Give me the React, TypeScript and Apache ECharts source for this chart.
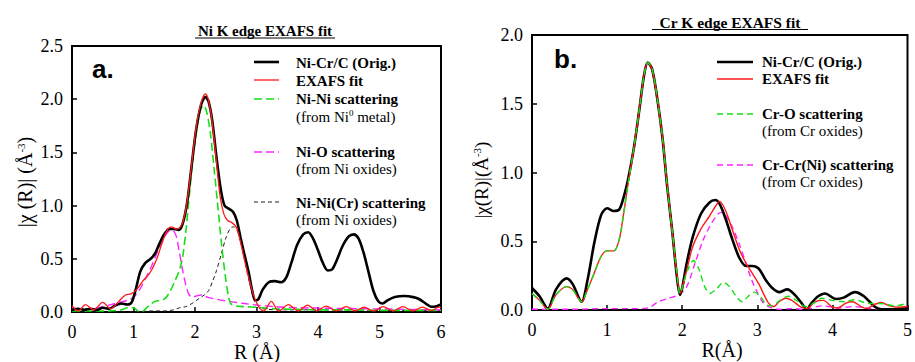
import React, { useEffect, useRef } from 'react';
import * as echarts from 'echarts';

// ---------- Panel a: Ni K edge ----------
const xTicksA = [0, 1, 2, 3, 4, 5, 6];
const yTicksA = [0, 0.5, 1.0, 1.5, 2.0, 2.5];
const origA = [[0,0.02],[0.1,0.03],[0.2,0.02],[0.3,0.03],[0.4,0.02],[0.5,0.04],[0.6,0.03],[0.7,0.06],[0.8,0.08],[0.9,0.07],[0.97,0.09],[1.04,0.22],[1.11,0.38],[1.19,0.46],[1.28,0.5],[1.35,0.55],[1.42,0.64],[1.5,0.73],[1.58,0.78],[1.66,0.78],[1.74,0.77],[1.8,0.83],[1.87,1.02],[1.94,1.35],[2.02,1.72],[2.1,1.95],[2.17,2.02],[2.22,1.98],[2.28,1.8],[2.35,1.45],[2.42,1.15],[2.48,1.0],[2.55,0.97],[2.62,0.94],[2.68,0.86],[2.74,0.7],[2.8,0.55],[2.87,0.38],[2.93,0.2],[2.98,0.11],[3.03,0.12],[3.1,0.21],[3.2,0.28],[3.3,0.29],[3.4,0.28],[3.48,0.32],[3.56,0.45],[3.66,0.63],[3.76,0.73],[3.84,0.75],[3.92,0.69],[4.0,0.58],[4.08,0.46],[4.16,0.39],[4.23,0.4],[4.3,0.48],[4.4,0.62],[4.5,0.71],[4.58,0.73],[4.66,0.69],[4.74,0.56],[4.82,0.38],[4.9,0.2],[4.98,0.1],[5.05,0.08],[5.13,0.11],[5.25,0.14],[5.4,0.15],[5.55,0.14],[5.65,0.12],[5.75,0.08],[5.84,0.05],[5.93,0.055],[6.0,0.07]];
const fitA = [[0,0.06],[0.1,0.01],[0.22,0.07],[0.35,0.02],[0.5,0.09],[0.63,0.03],[0.76,0.1],[0.87,0.16],[0.96,0.17],[1.05,0.21],[1.15,0.29],[1.23,0.34],[1.3,0.4],[1.38,0.5],[1.46,0.64],[1.54,0.76],[1.61,0.8],[1.7,0.78],[1.76,0.8],[1.81,0.86],[1.87,1.03],[1.94,1.36],[2.02,1.74],[2.1,1.97],[2.17,2.05],[2.22,1.99],[2.28,1.78],[2.35,1.4],[2.41,1.08],[2.47,0.92],[2.53,0.86],[2.6,0.84],[2.67,0.8],[2.73,0.68],[2.8,0.5],[2.87,0.33],[2.94,0.18],[3.0,0.09],[3.06,0.03],[3.12,0.01],[3.24,0.1],[3.36,0.01],[3.52,0.07],[3.68,0.01],[3.83,0.065],[3.98,0.01],[4.13,0.055],[4.3,0.01],[4.46,0.05],[4.6,0.01],[4.75,0.045],[4.9,0.01],[5.06,0.05],[5.22,0.01],[5.38,0.05],[5.54,0.01],[5.7,0.045],[5.85,0.015],[5.97,0.045],[6.0,0.04]];
const niNiA = [[0,0.01],[0.3,0.01],[0.6,0.01],[0.8,0.02],[0.92,0.04],[1.0,0.04],[1.08,0.01],[1.15,0.01],[1.25,0.06],[1.35,0.1],[1.45,0.11],[1.52,0.13],[1.6,0.2],[1.68,0.3],[1.75,0.4],[1.8,0.52],[1.85,0.75],[1.9,1.05],[1.96,1.4],[2.03,1.72],[2.09,1.9],[2.14,1.94],[2.19,1.88],[2.25,1.68],[2.31,1.35],[2.37,1.0],[2.43,0.65],[2.49,0.35],[2.54,0.16],[2.58,0.08],[2.64,0.06],[2.8,0.05],[3.0,0.045],[3.3,0.03],[3.6,0.025],[4.0,0.02],[4.5,0.02],[5.0,0.015],[5.5,0.015],[6.0,0.015]];
const niOA = [[0,0.04],[0.15,0.02],[0.3,0.03],[0.5,0.05],[0.7,0.08],[0.9,0.11],[1.0,0.14],[1.1,0.21],[1.2,0.32],[1.3,0.44],[1.4,0.58],[1.5,0.7],[1.57,0.76],[1.63,0.77],[1.69,0.72],[1.74,0.58],[1.79,0.42],[1.84,0.28],[1.89,0.18],[1.95,0.14],[2.02,0.15],[2.1,0.16],[2.2,0.14],[2.35,0.12],[2.55,0.1],[2.8,0.08],[3.0,0.065],[3.3,0.05],[3.7,0.04],[4.2,0.035],[4.8,0.03],[5.4,0.025],[6.0,0.02]];
const niNiCrA = [[0,0.0],[0.5,0.0],[1.0,0.0],[1.3,0.01],[1.5,0.01],[1.65,0.02],[1.75,0.04],[1.85,0.05],[1.95,0.08],[2.05,0.12],[2.15,0.16],[2.22,0.2],[2.28,0.28],[2.35,0.39],[2.43,0.55],[2.51,0.71],[2.58,0.79],[2.63,0.8],[2.69,0.76],[2.76,0.62],[2.83,0.42],[2.9,0.24],[2.96,0.12],[3.02,0.06],[3.1,0.03],[3.5,0.02],[4,0.02],[5,0.015],[6,0.015]];

// ---------- Panel b: Cr K edge ----------
const xTicksB = [0, 1, 2, 3, 4, 5];
const yTicksB = [0, 0.5, 1.0, 1.5, 2.0];
const origB = [[0,0.16],[0.1,0.1],[0.21,0.01],[0.32,0.15],[0.46,0.23],[0.54,0.19],[0.66,0.06],[0.74,0.22],[0.83,0.49],[0.92,0.69],[1.0,0.74],[1.09,0.72],[1.16,0.73],[1.22,0.82],[1.28,0.95],[1.36,1.19],[1.43,1.46],[1.49,1.7],[1.54,1.8],[1.6,1.75],[1.67,1.53],[1.74,1.24],[1.8,0.9],[1.87,0.56],[1.93,0.24],[1.97,0.11],[2.0,0.16],[2.06,0.34],[2.14,0.53],[2.25,0.7],[2.36,0.78],[2.44,0.8],[2.5,0.77],[2.58,0.66],[2.67,0.51],[2.76,0.38],[2.85,0.32],[2.93,0.32],[3.02,0.3],[3.11,0.22],[3.2,0.16],[3.29,0.13],[3.4,0.15],[3.5,0.11],[3.59,0.05],[3.66,0.005],[3.72,0.05],[3.81,0.1],[3.9,0.12],[4.05,0.08],[4.15,0.09],[4.3,0.13],[4.42,0.1],[4.56,0.025],[4.65,0.005],[4.78,0.005],[4.95,0.01],[5.0,0.01]];
const fitB = [[0,0.12],[0.1,0.07],[0.21,0.005],[0.32,0.11],[0.46,0.17],[0.54,0.15],[0.66,0.06],[0.74,0.15],[0.83,0.27],[0.92,0.39],[1.0,0.43],[1.09,0.43],[1.16,0.51],[1.22,0.7],[1.28,0.92],[1.36,1.19],[1.43,1.46],[1.49,1.7],[1.54,1.8],[1.6,1.75],[1.67,1.53],[1.74,1.24],[1.8,0.9],[1.87,0.56],[1.93,0.26],[1.97,0.12],[2.0,0.16],[2.06,0.29],[2.14,0.46],[2.25,0.59],[2.36,0.68],[2.45,0.76],[2.5,0.79],[2.58,0.72],[2.67,0.58],[2.76,0.44],[2.85,0.34],[2.93,0.27],[3.02,0.19],[3.09,0.11],[3.15,0.05],[3.22,0.025],[3.29,0.06],[3.38,0.085],[3.46,0.07],[3.57,0.025],[3.66,0.01],[3.77,0.06],[3.88,0.07],[3.99,0.025],[4.07,0.015],[4.18,0.05],[4.27,0.06],[4.38,0.025],[4.45,0.01],[4.56,0.04],[4.65,0.055],[4.76,0.03],[4.87,0.02],[5.0,0.025]];
const crOB = [[0,0.12],[0.1,0.07],[0.21,0.005],[0.32,0.11],[0.46,0.17],[0.54,0.15],[0.66,0.06],[0.74,0.15],[0.83,0.27],[0.92,0.39],[1.0,0.43],[1.09,0.43],[1.16,0.51],[1.22,0.7],[1.28,0.92],[1.36,1.19],[1.43,1.46],[1.49,1.7],[1.54,1.8],[1.6,1.75],[1.67,1.53],[1.74,1.24],[1.8,0.9],[1.87,0.56],[1.93,0.26],[1.97,0.12],[2.02,0.2],[2.08,0.3],[2.15,0.36],[2.22,0.3],[2.3,0.17],[2.37,0.12],[2.45,0.15],[2.55,0.2],[2.63,0.17],[2.72,0.1],[2.8,0.06],[2.88,0.1],[2.96,0.13],[3.04,0.1],[3.13,0.035],[3.2,0.03],[3.3,0.07],[3.42,0.1],[3.52,0.07],[3.64,0.025],[3.75,0.05],[3.86,0.085],[4.0,0.07],[4.16,0.06],[4.29,0.075],[4.46,0.05],[4.68,0.045],[4.84,0.03],[5.0,0.05]];
const crCrB = [[0,0.005],[0.5,0.005],[1.0,0.01],[1.3,0.01],[1.46,0.01],[1.57,0.02],[1.68,0.06],[1.82,0.085],[1.95,0.11],[2.06,0.17],[2.17,0.34],[2.28,0.51],[2.39,0.63],[2.48,0.7],[2.54,0.71],[2.6,0.67],[2.67,0.6],[2.76,0.48],[2.85,0.34],[2.91,0.24],[2.98,0.15],[3.07,0.06],[3.15,0.025],[3.29,0.005],[3.46,0.01],[3.64,0.005],[3.86,0.03],[4.07,0.015],[4.29,0.025],[4.51,0.01],[4.78,0.005],[5.0,0.005]];

const SERIF = 'Liberation Serif';
const SANS = 'Liberation Sans';
const RED = '#ff1a1a';
const GREEN = '#14e014';
const MAGENTA = '#ff22ff';
const LEG = 15;

function axisX(grid: number, ticks: number[]) {
  return {
    gridIndex: grid, type: 'value', min: ticks[0], max: ticks[ticks.length - 1], interval: 1,
    axisLine: { show: true, lineStyle: { color: '#000', width: 2 } },
    axisTick: { show: true, inside: true, length: 5, lineStyle: { color: '#000', width: 1.5 } },
    axisLabel: { color: '#000', fontFamily: SERIF, fontSize: 18, margin: 11 },
    splitLine: { show: false },
  };
}
function axisY(grid: number, ticks: number[]) {
  return {
    gridIndex: grid, type: 'value', min: ticks[0], max: ticks[ticks.length - 1], interval: 0.5,
    axisLine: { show: true, lineStyle: { color: '#000', width: 2 } },
    axisTick: { show: true, inside: true, length: 5, lineStyle: { color: '#000', width: 1.5 } },
    axisLabel: { color: '#000', fontFamily: SERIF, fontSize: 18, margin: 9, formatter: (v: number) => v.toFixed(1) },
    splitLine: { show: false },
  };
}
function line(name: string, idx: number, data: number[][], color: string, width: number, dash?: number[]) {
  return {
    name, type: 'line', xAxisIndex: idx, yAxisIndex: idx, data, showSymbol: false, smooth: 0.3,
    lineStyle: { color, width, type: dash ? dash : 'solid' }, z: 3,
  };
}
function legLine(x1: number, x2: number, y: number, color: string, width: number, dash?: number[]) {
  return { type: 'line', shape: { x1, y1: y, x2, y2: y }, style: { stroke: color, lineWidth: width, lineDash: dash || null } };
}
function txt(x: number, y: number, text: string, size: number, weight: string, family = SERIF, extra: any = {}) {
  return {
    type: 'text', x, y,
    style: { text, fill: '#000', fontSize: size, fontWeight: weight, fontFamily: family, align: 'left', verticalAlign: 'middle', ...extra },
  };
}

export default function App() {
  const ref = useRef<HTMLDivElement>(null);
  useEffect(() => {
    document.body.style.margin = '0';
    const chart = echarts.init(ref.current!, null, { renderer: 'svg' });
    const supRich = { sup: { fontSize: 11, fontFamily: SERIF, verticalAlign: 'top', lineHeight: 20 } };
    const option: any = {
      animation: false,
      backgroundColor: '#fff',
      textStyle: { fontFamily: SERIF },
      grid: [
        { left: 72, top: 46, width: 369, height: 266, show: true, borderColor: '#000', borderWidth: 2, backgroundColor: 'transparent' },
        { left: 532, top: 35, width: 380, height: 275, show: true, borderColor: '#000', borderWidth: 2, backgroundColor: 'transparent' },
      ],
      xAxis: [axisX(0, xTicksA), axisX(1, xTicksB)],
      yAxis: [axisY(0, yTicksA), axisY(1, yTicksB)],
      series: [
        line('Ni-Ni(Cr) scattering', 0, niNiCrA, '#222', 1, [4, 3]),
        line('Ni-O scattering', 0, niOA, MAGENTA, 1.4, [8, 4]),
        line('Ni-Ni scattering', 0, niNiA, GREEN, 1.6, [8, 4]),
        line('Ni-Cr/C (Orig.)', 0, origA, '#000', 2.6),
        line('EXAFS fit', 0, fitA, RED, 1.3),
        line('Cr-Cr(Ni) scattering', 1, crCrB, MAGENTA, 1.4, [6, 4]),
        line('Ni-Cr/C (Orig.)', 1, origB, '#000', 2.6),
        line('EXAFS fit', 1, fitB, RED, 1.4),
        line('Cr-O scattering', 1, crOB, GREEN, 1.4, [6, 4]),
      ],
      graphic: [
        // titles
        { type: 'text', x: 265, y: 31, style: { text: 'Ni K edge EXAFS fit', fill: '#000', fontSize: 15, fontWeight: 'bold', fontFamily: SERIF, align: 'center', verticalAlign: 'middle' } },
        { type: 'line', shape: { x1: 195, y1: 38, x2: 335, y2: 38 }, style: { stroke: '#000', lineWidth: 1 } },
        { type: 'text', x: 730, y: 22, style: { text: 'Cr K edge EXAFS fit', fill: '#000', fontSize: 15.5, fontWeight: 'bold', fontFamily: SERIF, align: 'center', verticalAlign: 'middle' } },
        { type: 'line', shape: { x1: 652, y1: 29.5, x2: 808, y2: 29.5 }, style: { stroke: '#000', lineWidth: 1 } },
        // panel labels
        txt(92, 69, 'a.', 26, 'bold', SANS),
        txt(554, 59, 'b.', 26, 'bold', SANS),
        // axis names
        { type: 'text', x: 25, y: 182, rotation: Math.PI / 2, style: { text: '|χ (R)| (Å{sup|-3})', rich: supRich, fill: '#000', fontSize: 20, fontFamily: SERIF, align: 'center', verticalAlign: 'middle' } },
        { type: 'text', x: 481, y: 180, rotation: Math.PI / 2, style: { text: '|χ(R)|(Å{sup|-3})', rich: supRich, fill: '#000', fontSize: 19, fontFamily: SERIF, align: 'center', verticalAlign: 'middle' } },
        { type: 'text', x: 257, y: 352, style: { text: 'R (Å)', fill: '#000', fontSize: 20, fontFamily: SERIF, align: 'center', verticalAlign: 'middle' } },
        { type: 'text', x: 722, y: 350, style: { text: 'R(Å)', fill: '#000', fontSize: 20, fontFamily: SERIF, align: 'center', verticalAlign: 'middle' } },
        // legend a
        legLine(254, 279, 62, '#000', 2.6),
        legLine(254, 279, 80, RED, 1.3),
        legLine(254, 279, 99, GREEN, 1.6, [8, 4]),
        legLine(254, 279, 152, MAGENTA, 1.4, [8, 4]),
        legLine(254, 279, 202, '#222', 1, [4, 3]),
        txt(296, 63, 'Ni-Cr/C (Orig.)', LEG, 'bold'),
        txt(296, 81, 'EXAFS fit', LEG, 'bold'),
        txt(296, 99, 'Ni-Ni scattering', LEG, 'bold'),
        txt(296, 117, '(from Ni{sup|0} metal)', LEG, 'normal', SERIF, { rich: { sup: { fontSize: 9, fontFamily: SERIF, verticalAlign: 'top', lineHeight: 17 } } }),
        txt(296, 152, 'Ni-O scattering', LEG, 'bold'),
        txt(296, 169, '(from Ni oxides)', LEG, 'normal'),
        txt(296, 203, 'Ni-Ni(Cr) scattering', LEG, 'bold'),
        txt(296, 220, '(from Ni oxides)', LEG, 'normal'),
        // legend b
        legLine(717, 753, 62, '#000', 2.6),
        legLine(717, 753, 79, RED, 1.4),
        legLine(717, 753, 114, GREEN, 1.4, [6, 4]),
        legLine(717, 753, 165, MAGENTA, 1.4, [6, 4]),
        txt(762, 62, 'Ni-Cr/C (Orig.)', LEG, 'bold'),
        txt(762, 79, 'EXAFS fit', LEG, 'bold'),
        txt(762, 114, 'Cr-O scattering', LEG, 'bold'),
        txt(762, 131, '(from Cr oxides)', LEG, 'normal'),
        txt(762, 165, 'Cr-Cr(Ni) scattering', LEG, 'bold'),
        txt(762, 182, '(from Cr oxides)', LEG, 'normal'),
      ],
    };
    chart.setOption(option);
    return () => chart.dispose();
  }, []);
  return <div ref={ref} style={{ width: 915, height: 362 }} />;
}
